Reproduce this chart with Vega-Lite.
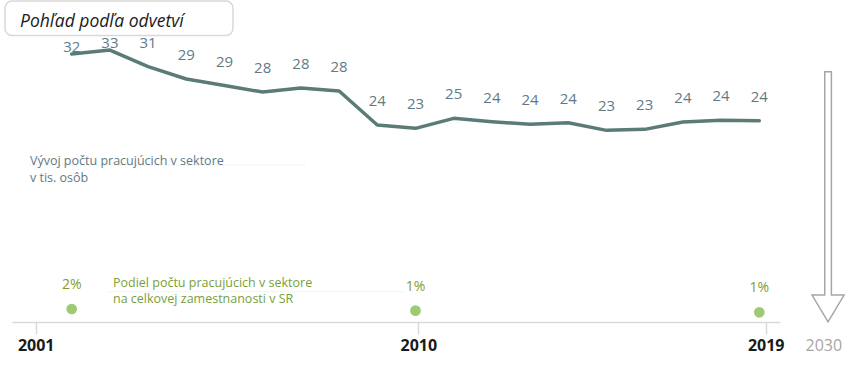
{
  "$schema": "https://vega.github.io/schema/vega-lite/v6.json",
  "width": 768,
  "height": 322,
  "autosize": "none",
  "padding": {"left": 12, "top": 0, "right": 73, "bottom": 44},
  "background": "white",
  "config": {
    "view": {"stroke": null},
    "font": "Open Sans",
    "axisX": {
      "labelExpr": "datum.value < 2005 ? '2001' : (datum.value < 2015 ? '2010' : '2019')",
      "title": null, "grid": false,
      "domainColor": "#d9d9d9", "domainWidth": 1.5,
      "tickColor": "#d9d9d9", "tickWidth": 1.5, "tickSize": 12,
      "labelFont": "Open Sans", "labelFontSize": 16, "labelFontWeight": "bold", "labelColor": "#1a1a1a",
      "labelPadding": 3, "labelFlush": false, "labelOverlap": false, "labelBound": false
    }
  },
  "datasets": {
    "employment": [
      {"year": 2001, "workers": 32.3},
      {"year": 2002, "workers": 32.77},
      {"year": 2003, "workers": 30.79},
      {"year": 2004, "workers": 29.32},
      {"year": 2005, "workers": 28.55},
      {"year": 2006, "workers": 27.77},
      {"year": 2007, "workers": 28.25},
      {"year": 2008, "workers": 27.89},
      {"year": 2009, "workers": 23.85},
      {"year": 2010, "workers": 23.45},
      {"year": 2011, "workers": 24.64},
      {"year": 2012, "workers": 24.24},
      {"year": 2013, "workers": 23.93},
      {"year": 2014, "workers": 24.12},
      {"year": 2015, "workers": 23.21},
      {"year": 2016, "workers": 23.33},
      {"year": 2017, "workers": 24.2},
      {"year": 2018, "workers": 24.4},
      {"year": 2019, "workers": 24.36}
    ],
    "share": [
      {"year": 2001, "share": 0.016},
      {"year": 2010, "share": 0.013},
      {"year": 2019, "share": 0.010}
    ]
  },
  "resolve": {"scale": {"y": "independent"}},
  "layer": [
    {
      "data": {"name": "employment"},
      "layer": [
        {
          "data": {"values": [{"box": "title"}]},
          "mark": {"type": "rect", "fill": "white", "stroke": "#d9d9d9", "strokeWidth": 1.5, "cornerRadius": 7},
          "encoding": {
            "x": {"datum": 1999.254, "type": "quantitative", "scale": {"domain": [1999.437, 2019.542], "nice": false, "zero": false}, "axis": {"values": [2000.058, 2010.073, 2019.168]}},
            "x2": {"datum": 2005.222},
            "y": {"datum": 38.6, "type": "quantitative", "scale": {"domain": [0.393, 38.73], "nice": false, "zero": false}, "axis": null},
            "y2": {"datum": 34.5}
          }
        },
        {
          "data": {"values": [{"label": "Pohľad podľa odvetví"}]},
          "mark": {"type": "text", "align": "left", "baseline": "alphabetic", "fontStyle": "italic", "fontSize": 17.5, "color": "#1a1a1a"},
          "encoding": {
            "x": {"datum": 1999.647, "type": "quantitative", "scale": {"domain": [1999.437, 2019.542], "nice": false, "zero": false}, "axis": {"values": [2000.058, 2010.073, 2019.168]}},
            "y": {"datum": 35.51, "type": "quantitative", "scale": {"domain": [0.393, 38.73], "nice": false, "zero": false}, "axis": null},
            "text": {"field": "label", "type": "nominal"}
          }
        },
        {
          "mark": {"type": "line", "color": "#5b7b77", "strokeWidth": 3.5, "strokeJoin": "round", "strokeCap": "round"},
          "encoding": {
            "x": {"field": "year", "type": "quantitative", "scale": {"domain": [1999.437, 2019.542], "nice": false, "zero": false}, "axis": {"values": [2000.058, 2010.073, 2019.168]}},
            "y": {"field": "workers", "type": "quantitative", "scale": {"domain": [0.393, 38.73], "nice": false, "zero": false}, "axis": null}
          }
        },
        {
          "transform": [{"filter": "datum.year >= 2003"}],
          "mark": {"type": "text", "dy": -24, "baseline": "middle", "align": "center", "fontSize": 15, "color": "#5f7a86"},
          "encoding": {
            "x": {"field": "year", "type": "quantitative", "scale": {"domain": [1999.437, 2019.542], "nice": false, "zero": false}, "axis": {"values": [2000.058, 2010.073, 2019.168]}},
            "y": {"field": "workers", "type": "quantitative", "scale": {"domain": [0.393, 38.73], "nice": false, "zero": false}, "axis": null},
            "text": {"field": "workers", "type": "quantitative", "format": ".0f"}
          }
        },
        {
          "transform": [{"filter": "datum.year <= 2002"}],
          "mark": {"type": "text", "dy": -7, "baseline": "middle", "align": "center", "fontSize": 15, "color": "#5f7a86"},
          "encoding": {
            "x": {"field": "year", "type": "quantitative", "scale": {"domain": [1999.437, 2019.542], "nice": false, "zero": false}, "axis": {"values": [2000.058, 2010.073, 2019.168]}},
            "y": {"field": "workers", "type": "quantitative", "scale": {"domain": [0.393, 38.73], "nice": false, "zero": false}, "axis": null},
            "text": {"field": "workers", "type": "quantitative", "format": ".0f"}
          }
        },
        {
          "data": {"values": [{"note": "workers"}]},
          "mark": {"type": "rule", "color": "#e6e6e6", "strokeWidth": 1, "strokeDash": [1, 1]},
          "encoding": {
            "x": {"datum": 1999.908, "type": "quantitative", "scale": {"domain": [1999.437, 2019.542], "nice": false, "zero": false}, "axis": {"values": [2000.058, 2010.073, 2019.168]}},
            "x2": {"datum": 2007.116},
            "y": {"datum": 19.08, "type": "quantitative", "scale": {"domain": [0.393, 38.73], "nice": false, "zero": false}, "axis": null}
          }
        },
        {
          "data": {"values": [{"label": "Vývoj počtu pracujúcich v sektore\nv tis. osôb"}]},
          "mark": {"type": "text", "align": "left", "baseline": "alphabetic", "lineBreak": "\n", "lineHeight": 16.7, "fontSize": 12.5, "color": "#5f7a86"},
          "encoding": {
            "x": {"datum": 1999.908, "type": "quantitative", "scale": {"domain": [1999.437, 2019.542], "nice": false, "zero": false}, "axis": {"values": [2000.058, 2010.073, 2019.168]}},
            "y": {"datum": 19.08, "type": "quantitative", "scale": {"domain": [0.393, 38.73], "nice": false, "zero": false}, "axis": null},
            "text": {"field": "label", "type": "nominal"}
          }
        },
        {
          "data": {"values": [{"note": "share"}]},
          "mark": {"type": "rule", "color": "#e4eadb", "strokeWidth": 1, "strokeDash": [1, 1]},
          "encoding": {
            "x": {"datum": 2001.955, "type": "quantitative", "scale": {"domain": [1999.437, 2019.542], "nice": false, "zero": false}, "axis": {"values": [2000.058, 2010.073, 2019.168]}},
            "x2": {"datum": 2009.672},
            "y": {"datum": 4.0, "type": "quantitative", "scale": {"domain": [0.393, 38.73], "nice": false, "zero": false}, "axis": null}
          }
        },
        {
          "data": {"values": [{"label": "Podiel počtu pracujúcich v sektore\nna celkovej zamestnanosti v SR"}]},
          "mark": {"type": "text", "align": "left", "baseline": "alphabetic", "lineBreak": "\n", "lineHeight": 16, "fontSize": 12.5, "color": "#78a03c"},
          "encoding": {
            "x": {"datum": 2002.081, "type": "quantitative", "scale": {"domain": [1999.437, 2019.542], "nice": false, "zero": false}, "axis": {"values": [2000.058, 2010.073, 2019.168]}},
            "y": {"datum": 4.52, "type": "quantitative", "scale": {"domain": [0.393, 38.73], "nice": false, "zero": false}, "axis": null},
            "text": {"field": "label", "type": "nominal"}
          }
        },
        {
          "data": {"values": [{"note": "arrow"}]},
          "mark": {
            "type": "point",
            "shape": "M-0.026,-0.977 L0.026,-0.977 L0.026,0.768 L0.125,0.768 L0,0.977 L-0.125,0.768 L-0.026,0.768 Z",
            "size": 65536, "filled": true, "fill": "white", "stroke": "#a6a6a6", "strokeWidth": 1.5, "opacity": 1
          },
          "encoding": {
            "x": {"datum": 2020.8, "type": "quantitative", "scale": {"domain": [1999.437, 2019.542], "nice": false, "zero": false}, "axis": {"values": [2000.058, 2010.073, 2019.168]}},
            "y": {"datum": 15.31, "type": "quantitative", "scale": {"domain": [0.393, 38.73], "nice": false, "zero": false}, "axis": null}
          }
        },
        {
          "data": {"values": [{"label": "2030"}]},
          "mark": {"type": "text", "align": "center", "baseline": "middle", "fontSize": 16, "color": "#a6a6a6"},
          "encoding": {
            "x": {"datum": 2020.69, "type": "quantitative", "scale": {"domain": [1999.437, 2019.542], "nice": false, "zero": false}, "axis": {"values": [2000.058, 2010.073, 2019.168]}},
            "y": {"datum": -2.46, "type": "quantitative", "scale": {"domain": [0.393, 38.73], "nice": false, "zero": false}, "axis": null},
            "text": {"field": "label", "type": "nominal"}
          }
        }
      ]
    },
    {
      "data": {"name": "share"},
      "encoding": {
        "x": {"field": "year", "type": "quantitative", "scale": {"domain": [1999.437, 2019.542], "nice": false, "zero": false}, "axis": {"values": [2000.058, 2010.073, 2019.168]}},
        "y": {"field": "share", "type": "quantitative", "scale": {"domain": [-0.00764, 0.5778], "nice": false, "zero": false}, "axis": null}
      },
      "layer": [
        {"mark": {"type": "circle", "size": 115, "color": "#9ccb73", "opacity": 1}},
        {
          "mark": {"type": "text", "dy": -24, "baseline": "middle", "align": "center", "fontSize": 14, "color": "#7f9d35"},
          "encoding": {"text": {"field": "share", "type": "quantitative", "format": ".0%"}}
        }
      ]
    }
  ]
}
